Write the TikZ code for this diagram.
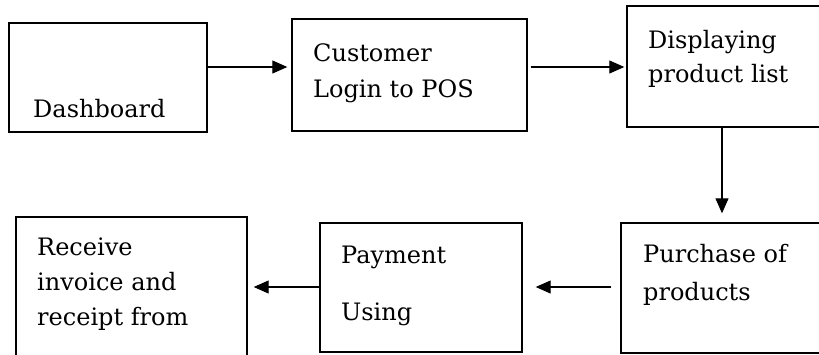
\documentclass[tikz,border=0pt]{standalone}
\usepackage{fontspec}
\setmainfont{DejaVu Serif}
\usetikzlibrary{arrows.meta}
\tikzset{
  box/.style={draw=black, line width=1.4pt, rectangle, inner sep=0pt},
  lbl/.style={anchor=base west, inner sep=0pt, font=\fontsize{24}{28}\selectfont},
  arr/.style={draw=black, line width=1.1pt, -{Triangle[length=15pt,width=13pt]}}
}
\begin{document}
\begin{tikzpicture}[x=1pt,y=-1pt]
\useasboundingbox (0,0) rectangle (819,354);
\clip (0,0) rectangle (819,354);
\fill[white] (0,0) rectangle (819,354);
% boxes
\node[box, minimum width=198pt, minimum height=109pt] (b1) at (108,77.5) {};
\node[box, minimum width=235pt, minimum height=112pt] (b2) at (409.5,75) {};
\node[box, minimum width=213pt, minimum height=121pt] (b3) at (733.5,66.5) {};
\node[box, minimum width=209pt, minimum height=130pt] (b4) at (725.5,288) {};
\node[box, minimum width=202pt, minimum height=129pt] (b5) at (421,287.5) {};
\node[box, minimum width=231pt, minimum height=163pt] (b6) at (131.5,298.5) {};
% labels
\node[lbl] (t1) at (33,117) {Dashboard};
\node[lbl] (t2a) at (313,61) {Customer};
\node[lbl] (t2b) at (313,97) {Login to POS};
\node[lbl] (t3a) at (648,48) {Displaying};
\node[lbl] (t3b) at (648,82) {product list};
\node[lbl] (t4a) at (643,262) {Purchase of};
\node[lbl] (t4b) at (643,300) {products};
\node[lbl] (t5a) at (341,263) {Payment};
\node[lbl] (t5b) at (341,320) {Using};
\node[lbl] (t6a) at (37,255) {Receive};
\node[lbl] (t6b) at (37,290) {invoice and};
\node[lbl] (t6c) at (37,325) {receipt from};
% connector guides
\coordinate (r1) at (0,67);
\coordinate (r2) at (0,287);
\coordinate (v) at (722,0);
% connectors
\draw[arr, shorten >=4pt] (b1.east |- r1) -- (b2.west |- r1);
\draw[arr, shorten <=3pt, shorten >=2pt] (b2.east |- r1) -- (b3.west |- r1);
\draw[arr, shorten >=9pt] (b3.south -| v) -- (b4.north -| v);
\draw[arr, shorten <=9pt, shorten >=13pt] (b4.west |- r2) -- (b5.east |- r2);
\draw[arr, shorten >=6pt] (b5.west |- r2) -- (b6.east |- r2);
\end{tikzpicture}
\end{document}
